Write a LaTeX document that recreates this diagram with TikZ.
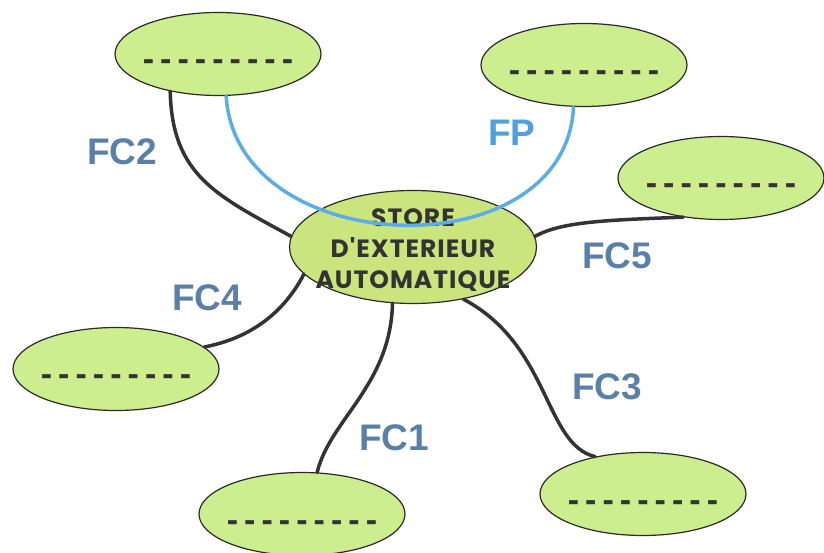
\documentclass[tikz,border=0pt]{standalone}
\usepackage{fontspec}
\usepackage{tikz}
\usetikzlibrary{shapes.geometric,positioning}

\setmainfont{Liberation Sans}
\newfontfamily\storefont{Poppins}[LetterSpace=4]
\newfontfamily\dashfont{Liberation Sans}[WordSpace=0.64]

\definecolor{vertpale}{HTML}{CDEE8E}
\definecolor{vertstore}{HTML}{CBE57E}
\definecolor{contour}{HTML}{2A2A2A}
\definecolor{trait}{HTML}{333333}
\definecolor{bleugris}{HTML}{5A7FA8}
\definecolor{bleuclair}{HTML}{4EA0DE}
\definecolor{bleufp}{HTML}{5AADE6}

\newcommand{\trous}{- - - - - - - - -}

\begin{document}
\begin{tikzpicture}[
  x=1pt,y=1pt,
  on grid,
  line cap=round,
  blanc/.style={ellipse,draw=contour,line width=1.2pt,fill=vertpale,
    minimum width=206pt,minimum height=83pt,inner xsep=-10pt,inner ysep=0pt,
    text height=34pt,text=trait,font=\dashfont\bfseries\fontsize{34}{34}\selectfont},
  fc/.style={text=bleugris,font=\bfseries\fontsize{37}{37}\selectfont},
  fp/.style={fc,text=bleuclair},
  lien/.style={draw=trait,line width=3.5pt},
  fonction/.style={draw=bleufp,line width=3.5pt}
  ]

  \useasboundingbox (-413,-306) rectangle (411,247);

  \node[ellipse,draw=contour,line width=1.2pt,fill=vertstore,
        minimum width=247pt,minimum height=113pt,inner xsep=-14pt,inner ysep=-10pt,
        align=center,text=trait,font=\storefont\bfseries\fontsize{25}{31}\selectfont]
        (store) at (0,0) {\rule{0pt}{24pt}STORE\\D'EXTERIEUR\\AUTOMATIQUE};

  \node[blanc] (e_2) [above left=193pt and 195pt of store]  {\trous};
  \node[blanc] (e_p) [above right=182pt and 171pt of store] {\trous};
  \node[blanc] (e_5) [above right=69pt and 308pt of store]  {\trous};
  \node[blanc] (e_4) [below left=122pt and 297pt of store]  {\trous};
  \node[blanc] (e_1) [below left=267pt and 111pt of store]  {\trous};
  \node[blanc] (e_3) [below right=247pt and 230pt of store] {\trous};

  \node[fc] (l_2) [above left=95pt and 291pt of store]   {FC2};
  \node[fp] (l_p) [above right=114pt and 99pt of store]  {FP};
  \node[fc] (l_5) [below right=9pt and 204pt of store]   {FC5};
  \node[fc] (l_4) [below left=51pt and 206pt of store]   {FC4};
  \node[fc] (l_1) [below left=191pt and 19pt of store]   {FC1};
  \node[fc] (l_3) [below right=140pt and 194pt of store] {FC3};

  \draw[lien]
    (e_2.218)   .. controls +(2,-84)   and +(-75,41) .. (store.175)
    (store.5)   .. controls +(26,14)   and +(-84,-3) .. (e_5.226)
    (store.194) .. controls +(-24,-46) and +(37,7)   .. (e_4.14)
    (store.250) .. controls +(-2,-82)  and +(13,53)  .. (e_1.70)
    (store.314) .. controls +(87,-46)  and +(-51,12) .. (e_3.142)
    ;

  \draw[fonction]
    (e_2.281) .. controls +(10,-165) and +(-8,-165) .. (e_p.256)
    ;
\end{tikzpicture}
\end{document}
